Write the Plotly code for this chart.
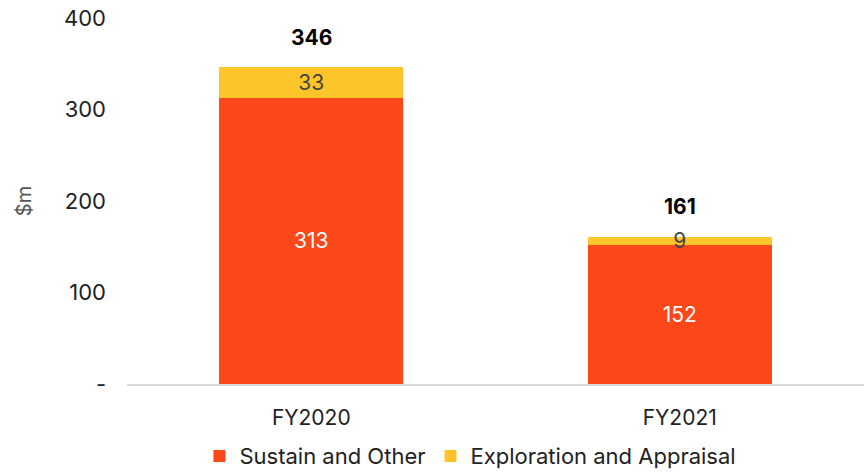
import plotly.graph_objects as go

years = ["FY2020", "FY2021"]
sustain = [313, 152]
exploration = [33, 9]
totals = [346, 161]

y_tickvals = [0, 100, 200, 300, 400]
y_ticktext = ["-", "100", "200", "300", "400"]

FONT = "Inter, Lato, sans-serif"
ORANGE = "#FC4819"
YELLOW = "#FEC52B"

fig = go.Figure()
fig.add_trace(go.Bar(
    name="Sustain and Other", x=years, y=sustain, marker_color=ORANGE,
    marker_line_width=0, text=[str(v) for v in sustain],
    textposition="inside", insidetextanchor="middle", constraintext="none",
    textangle=0,
    textfont=dict(color="white", size=21, family=FONT), width=0.5,
))
fig.add_trace(go.Bar(
    name="Exploration and Appraisal", x=years, y=exploration, marker_color=YELLOW,
    marker_line_width=0, text=[str(v) for v in exploration],
    textposition="inside", insidetextanchor="middle", constraintext="none",
    textangle=0,
    textfont=dict(color="#444444", size=21, family=FONT), width=0.5,
))

for yr, t in zip(years, totals):
    fig.add_annotation(x=yr, y=t, text=f"<b>{t}</b>", showarrow=False,
                       yanchor="middle", yshift=30,
                       font=dict(size=21, color="black", family=FONT))

fig.update_layout(
    barmode="stack",
    width=864, height=472,
    margin=dict(l=127, r=0, t=18, b=88, autoexpand=False),
    plot_bgcolor="white", paper_bgcolor="white",
    font=dict(family=FONT, size=21, color="#222222"),
    showlegend=True,
    legend=dict(orientation="h", x=0.466, xanchor="center", y=-0.197, yanchor="middle",
                font=dict(size=22, color="#222222"), traceorder="normal",
                itemwidth=30, tracegroupgap=0),
    xaxis=dict(showline=True, linecolor="#D9D9D9", linewidth=2, ticks="",
               tickfont=dict(size=21), showgrid=False, ticklabelstandoff=14,
               automargin=False),
    yaxis=dict(range=[0, 400], tickvals=y_tickvals, ticktext=y_ticktext,
               showgrid=False, zeroline=False, ticks="", ticklabelstandoff=20,
               tickfont=dict(size=22), automargin=False,
               title=dict(text="$m", font=dict(size=20, color="#555555"), standoff=27)),
)

fig.write_html("out.html")
